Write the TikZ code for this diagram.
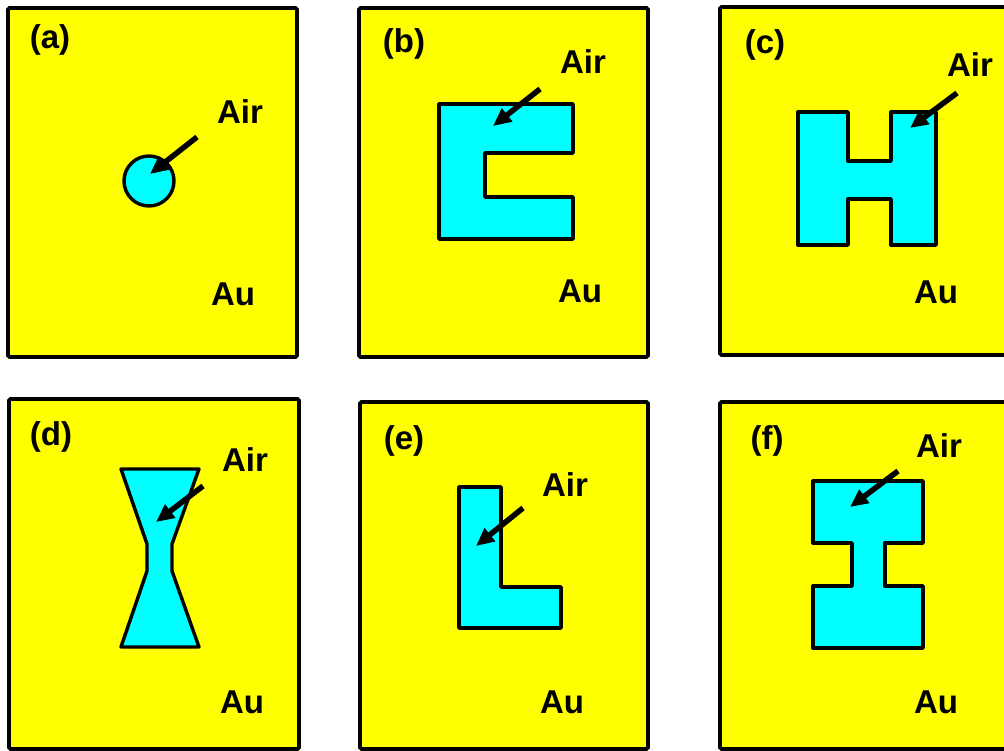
\documentclass[tikz,border=0pt]{standalone}
\usepackage{fontspec}
\setmainfont{Liberation Sans}
\usetikzlibrary{arrows.meta}
\definecolor{AuYellow}{RGB}{255,255,0}
\definecolor{AirCyan}{RGB}{0,255,255}

\begin{document}
\begin{tikzpicture}[
      x=1pt,y=-1pt,
      panel/.style={draw=black,fill=AuYellow,line width=3.8pt,rounded corners=1.5pt},
      hole/.style={draw=black,fill=AirCyan,line width=3.4pt,line join=round},
      lab/.style={font=\fontsize{33}{33}\selectfont\bfseries,inner sep=0pt},
      pointer/.style={-{Triangle[length=18pt,width=16pt]},line width=5.5pt,black}
    ]
    \useasboundingbox (0,0) rectangle (1004,751);
    \clip (0,0) rectangle (1004,751);
    % gold panels and their letters
    \foreach \n/\xa/\ya/\xb/\yb/\lx/\ly in {a/8/8/297/357/50/40,b/359/8/648/357/404/44,c/720/7/1015/355/765/45,
        d/9/399/299/749/51/437,e/360/402/648/749/404/441,f/720/402/1015/749/767/441}{
      \draw[panel] (\xa,\ya) rectangle (\xb,\yb);
      \node[lab] (\n-tag) at (\lx,\ly) {(\n)};
    }
    % air holes
    \draw[hole] (149,181) circle (25);
    \draw[hole] (439,104) -- (573,104) -- (573,153) -- (485,153) -- (485,197) -- (573,197) -- (573,239) -- (439,239) -- cycle;
    \draw[hole] (798,112) -- (848,112) -- (848,161) -- (891,161) -- (891,112) -- (936,112) -- (936,245)
      -- (891,245) -- (891,199) -- (848,199) -- (848,245) -- (798,245) -- cycle;
    \draw[hole] (121,469) -- (199,469) -- (172,544) -- (172,571) -- (199,647) -- (121,647) -- (147,571) -- (147,544) -- cycle;
    \draw[hole] (459,487) -- (501,487) -- (501,587) -- (561,587) -- (561,628) -- (459,628) -- cycle;
    \draw[hole] (813,481) -- (923,481) -- (923,543) -- (885,543) -- (885,586) -- (923,586) -- (923,648)
      -- (813,648) -- (813,586) -- (852,586) -- (852,543) -- (813,543) -- cycle;
    % Air / Au labels
    \foreach \n/\ax/\ay/\ux/\uy in {a/240/112/233/294,b/583/62/580/291,c/970/65/936/292,
        d/245/460/242/702,e/565/485/562/702,f/939/446/936/702}{
      \node[lab] (\n-air) at (\ax,\ay) {Air};
      \node[lab] (\n-au) at (\ux,\uy) {Au};
    }
    % pointers into the holes
    \foreach \n/\fx/\fy/\tx/\ty in {a/197/137/150/174,b/540/89/493/126,c/957/93/910/128,
        d/203/486/156/522,e/523/508/476/546,f/898/471/850/507}{
      \coordinate (\n-from) at (\fx,\fy);
      \coordinate (\n-tip) at (\tx,\ty);
      \draw[pointer] (\n-from) -- (\n-tip);
    }
  \end{tikzpicture}
\end{document}
